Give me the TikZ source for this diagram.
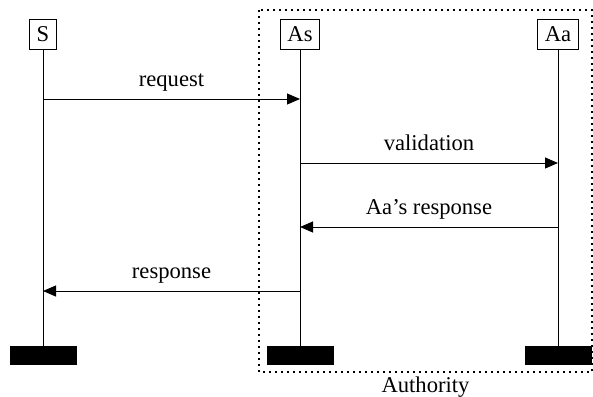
\documentclass[tikz,border=0pt]{standalone}
\usepackage{fontspec}
\setmainfont{Liberation Serif}
\usepackage{tikz}
\usetikzlibrary{positioning,arrows.meta}

\begin{document}
\begin{tikzpicture}[x=0.5pt,y=-0.5pt,font=\fontsize{11.3}{13}\selectfont,
    actor/.style={draw,inner xsep=3.7pt,inner ysep=0pt,minimum height=15pt,line width=0.5pt},
    stop/.style={fill=black,minimum width=33.5pt,minimum height=9.5pt,inner sep=0pt},
    msg/.style={line width=0.5pt,-{Triangle[length=6.5pt,width=5.5pt]}},
    msglabel/.style={midway,anchor=base,yshift=6.5pt,inner sep=0pt}]
      \useasboundingbox (0,0) rectangle (593,396);
      % group box
      \draw[line width=0.8pt,dash pattern=on 0.8pt off 2.2pt] (259,10) rectangle (592,372);
      \node[anchor=base](authority) at (425.5,392){Authority};
      % heads and ends
      \node[actor](S) at (43,34.5){S};
      \node[actor](As) at (300,34.5){As};
      \node[actor](Aa) at (558,34.5){Aa};
      \node[stop](Send) at (43,355.5){};
      \node[stop](Asend) at (300,355.5){};
      \node[stop](Aaend) at (558,355.5){};
      % lifelines
      \draw[line width=0.5pt] (S) -- (Send);
      \draw[line width=0.5pt] (As) -- (Asend);
      \draw[line width=0.5pt] (Aa) -- (Aaend);
      % messages
      \coordinate (req-a) at (S |- 0,99);
      \coordinate (req-b) at (As |- 0,99);
      \coordinate (val-a) at (As |- 0,163);
      \coordinate (val-b) at (Aa |- 0,163);
      \coordinate (ans-a) at (Aa |- 0,227);
      \coordinate (ans-b) at (As |- 0,227);
      \coordinate (res-a) at (As |- 0,291);
      \coordinate (res-b) at (S |- 0,291);
      \draw[msg] (req-a) -- (req-b) node[msglabel]{request};
      \draw[msg] (val-a) -- (val-b) node[msglabel]{validation};
      \draw[msg] (ans-a) -- (ans-b) node[msglabel]{Aa’s response};
      \draw[msg] (res-a) -- (res-b) node[msglabel]{response};
\end{tikzpicture}
\end{document}
